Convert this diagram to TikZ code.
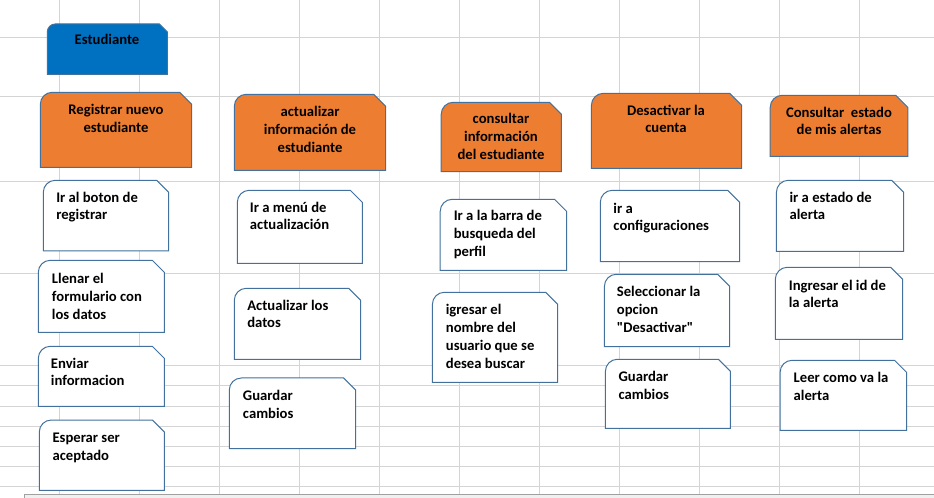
\documentclass[tikz,border=0pt]{standalone}
\usepackage{fontspec}
\setmainfont{Carlito}
\usetikzlibrary{positioning}

\definecolor{rejilla}{HTML}{D4D4D4}
\definecolor{borde}{HTML}{41719C}
\definecolor{azul}{HTML}{0070C0}
\definecolor{naranja}{HTML}{ED7D31}
\definecolor{barra}{HTML}{F0F0F0}
\definecolor{bordebarra}{HTML}{A0A0A0}

% caja con esquina redonda arriba a la izquierda y cortada arriba a la derecha
\newcommand{\caja}[6][12]{%
  \draw[borde, line width=0.75pt, fill=#6] (#2,#5) -- (#2,#3+#1)
    arc[start angle=180, end angle=90, radius={#1*0.75pt}]
    -- (#4-#1,#3) -- (#4,#3+#1) -- (#4,#5) -- cycle;}

\tikzset{
  titulo/.style={font=\fontsize{11}{13.4}\selectfont\bfseries, align=center, inner sep=0pt, anchor=base},
  paso/.style={font=\fontsize{11}{13.4}\selectfont\bfseries, align=left, inner sep=0pt, anchor=base west}
}

\begin{document}
\begin{tikzpicture}[x=0.75pt, y=-0.75pt]
  \useasboundingbox (0,0) rectangle (934,498);

  % rejilla de la hoja
  \foreach \x in {0,...,10}
    \draw[rejilla, line width=0.75pt] (59.3+80*\x,0) -- (59.3+80*\x,494);
  \foreach \y in {38,97,182,274,366,386,406,426,446,466,486}
    \draw[rejilla, line width=0.75pt] (0,\y) -- (934,\y);
  \draw[bordebarra, fill=barra, line width=0.75pt] (24.3,494) rectangle (940,502);

  % cajas
  \caja[8]{47.3}{24}{167.3}{74.3}{azul}
  \foreach \a/\b/\c/\d in {40.3/92.3/191.7/167.3, 234.3/94.3/385.7/170.3,
      441.2/102.3/561.4/171.7, 591.4/93.3/741.6/168.3, 770.2/95.3/907.8/156.3}
    \caja{\a}{\b}{\c}{\d}{naranja};
  \foreach \a/\b/\c/\d in {43.3/180.3/168.7/251, 38.3/260.3/164.3/332.3,
      38.3/346.3/164.3/406.3, 39.3/420/164.3/490.3,
      237.3/190.3/362.3/263.3, 234.3/288.3/360.7/359.3, 229.3/378/355.7/448.7,
      440.2/199.3/566.5/270.3, 432.4/292.3/557.7/382.3,
      600.3/190.3/739.6/261.7, 604.4/274.3/729.7/346.7, 605.4/359.3/730.4/428.3,
      776.4/180.3/903.7/251.3, 775.3/267.3/902.7/339.3, 780.1/360.3/906.5/430.3}
    \caja{\a}{\b}{\c}{\d}{white};

  % actor y casos de uso (base = ultima linea)
  \node[titulo] (est) at (107,45) {Estudiante};
  \node[titulo] (reg) at (116,132.4) {Registrar nuevo\\estudiante};
  \node[titulo] (act) at (310,152.7) {actualizar\\información de\\estudiante};
  \node[titulo] (con) at (501,159.7) {consultar\\información\\del estudiante};
  \node[titulo] (des) at (666,132.9) {Desactivar la\\cuenta};
  \node[titulo] (ale) at (839,134.9) {Consultar~ estado\\de mis alertas};

  % pasos
  \node[paso] (reg1) at (56,220) {Ir al boton de\\registrar};
  \node[paso] (reg2) at (51.7,319.2) {Llenar el\\formulario con\\los datos};
  \node[paso] (reg3) at (50.7,386) {Enviar\\informacion};
  \node[paso] (reg4) at (52.3,460) {Esperar ser\\aceptado};
  \node[paso] (act1) at (249.7,230) {Ir a menú de\\actualización};
  \node[paso] (act2) at (247,328) {Actualizar los\\datos};
  \node[paso] (act3) at (242.7,418) {Guardar\\cambios};
  \node[paso] (con1) at (453.5,256.7) {Ir a la barra de\\busqueda del\\perfil};
  \node[paso] (con2) at (445.6,368.6) {igresar el\\nombre del\\usuario que se\\desea buscar};
  \node[paso] (des1) at (613.2,231) {ir a\\configuraciones};
  \node[paso] (des2) at (616.6,332.7) {Seleccionar la\\opcion\\\textquotedbl Desactivar\textquotedbl};
  \node[paso] (des3) at (618.3,399) {Guardar\\cambios};
  \node[paso] (ale1) at (789.3,220) {ir a estado de\\alerta};
  \node[paso] (ale2) at (788.6,308) {Ingresar el id de\\la alerta};
  \node[paso] (ale3) at (793.4,400) {Leer como va la\\alerta};
\end{tikzpicture}
\end{document}
